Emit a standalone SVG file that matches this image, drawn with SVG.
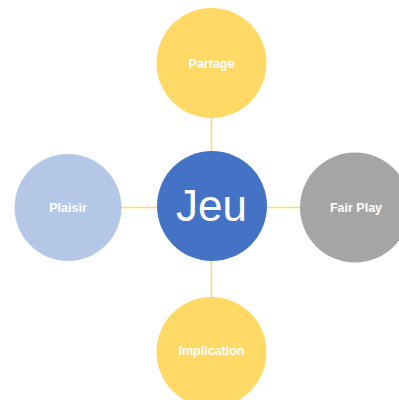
<svg xmlns="http://www.w3.org/2000/svg" width="399" height="400" viewBox="0 0 399 400">
<style>
.lbl{font-family:"Liberation Sans",Arial,sans-serif;font-weight:bold;font-size:12.5px;fill:#ffffff;text-anchor:middle}
.conn{stroke:#FFD966;stroke-width:1.5;fill:none}
</style>
<rect width="399" height="400" fill="#ffffff"/>
<g id="connectors">
<line class="conn" x1="211.5" y1="117" x2="211.5" y2="298"/>
<line class="conn" x1="120" y1="207.5" x2="301" y2="207.5"/>
</g>
<g id="partage">
<circle cx="211.5" cy="63" r="55" fill="#FFD966"/>
<text class="lbl" x="211.5" y="67.5">Partage</text>
</g>
<g id="plaisir">
<circle cx="68" cy="207.5" r="53.5" fill="#B4C7E7"/>
<text class="lbl" x="68" y="212">Plaisir</text>
</g>
<g id="jeu">
<circle cx="212" cy="206" r="55" fill="#4472C4"/>
<text x="211.5" y="221" font-family="Liberation Sans,Arial,sans-serif" font-size="44" fill="#ffffff" text-anchor="middle">Jeu</text>
</g>
<g id="fairplay">
<circle cx="355" cy="207.5" r="55" fill="#A5A5A5"/>
<text class="lbl" x="356" y="212">Fair Play</text>
</g>
<g id="implication">
<circle cx="211.5" cy="352" r="55" fill="#FFD966"/>
<text class="lbl" x="211.5" y="355">Implication</text>
</g>
</svg>
